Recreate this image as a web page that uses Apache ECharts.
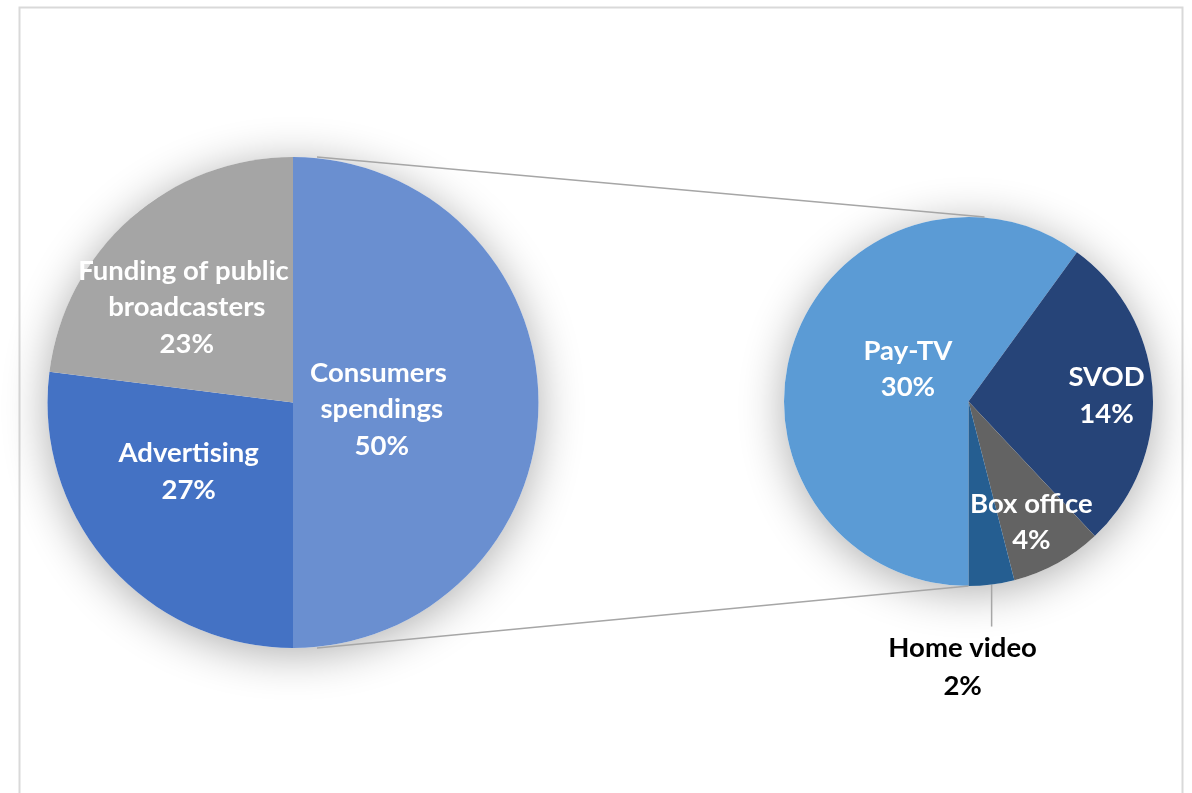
<!DOCTYPE html>
<html>
<head>
<meta charset="utf-8">
<script src="https://cdn.jsdelivr.net/npm/echarts@6/dist/echarts.min.js"></script>
<style>
  html, body { margin: 0; padding: 0; background: #ffffff; }
  #chart { width: 1192px; height: 793px; }
</style>
</head>
<body>
<div id="chart"></div>
<script>
// Market revenue split: main pie and the breakdown of consumer spendings
const mainCategories = ['Consumers spendings', 'Advertising', 'Funding of public broadcasters'];
const mainValues = [50, 27, 23];
const detailCategories = ['Pay-TV', 'SVOD', 'Box office', 'Home video'];
const detailValues = [30, 14, 4, 2];

const mainColors = ['#6A8FD0', '#4472C4', '#A5A5A5'];
const detailColors = ['#5B9BD5', '#264478', '#636363', '#255E91'];

// Pie geometry (pixels)
const L = { cx: 293, cy: 402.5, r: 245.5 };
const R = { cx: 968.5, cy: 401.5, r: 184.5 };

// Nudges for the inside labels, relative to ECharts' default inside position
const mainLabelShift = [[-37, 7], [-10, -14], [-23, -1]];
const detailLabelShift = [[30, -3], [43, 0], [17, 37]];

const FONT = 'Lato, "Open Sans", sans-serif';

const insideLabel = {
  show: true,
  position: 'inside',
  formatter: '{b}\n{c}%',
  color: '#ffffff',
  fontFamily: FONT,
  fontWeight: 'bold',
  fontSize: 27.5,
  lineHeight: 36.5,
  width: 245,
  overflow: 'break',
  align: 'center'
};

function shadowDisc(g) {
  return {
    type: 'pie',
    silent: true,
    center: [g.cx, g.cy],
    radius: g.r,
    label: { show: false },
    labelLine: { show: false },
    emphasis: { disabled: true },
    itemStyle: {
      color: '#ffffff',
      shadowBlur: 45,
      shadowOffsetY: 6,
      shadowColor: 'rgba(0,0,0,0.32)'
    },
    data: [1],
    z: 1
  };
}

const chart = echarts.init(document.getElementById('chart'), null, { renderer: 'canvas' });

chart.setOption({
  backgroundColor: '#ffffff',
  animation: false,
  graphic: [
    {
      type: 'rect',
      shape: { x: 19.5, y: 7.5, width: 1163, height: 820 },
      style: { fill: 'none', stroke: '#D9D9D9', lineWidth: 2 },
      z: 0
    },
    {
      type: 'line',
      shape: { x1: L.cx + 24, y1: L.cy - L.r, x2: R.cx + 16, y2: R.cy - R.r },
      style: { stroke: '#A6A6A6', lineWidth: 1.5 },
      z: 5
    },
    {
      type: 'line',
      shape: { x1: L.cx + 24, y1: L.cy + L.r, x2: R.cx, y2: R.cy + R.r },
      style: { stroke: '#A6A6A6', lineWidth: 1.5 },
      z: 5
    }
  ],
  series: [
    shadowDisc(L),
    shadowDisc(R),
    {
      type: 'pie',
      name: 'Total',
      center: [L.cx, L.cy],
      radius: L.r,
      startAngle: 90,
      clockwise: true,
      avoidLabelOverlap: false,
      emphasis: { disabled: true },
      label: insideLabel,
      labelLine: { show: false },
      labelLayout: function (p) {
        const s = mainLabelShift[p.dataIndex];
        return { dx: s[0], dy: s[1] };
      },
      data: mainCategories.map((n, i) => ({
        name: n, value: mainValues[i], itemStyle: { color: mainColors[i] }
      })),
      z: 2
    },
    {
      type: 'pie',
      name: 'Consumers spendings',
      center: [R.cx, R.cy],
      radius: R.r,
      startAngle: -90,
      clockwise: true,
      avoidLabelOverlap: false,
      emphasis: { disabled: true },
      label: insideLabel,
      labelLine: { show: false },
      labelLayout: function (p) {
        if (p.dataIndex === 3) {
          const p0 = p.labelLinePoints[0];
          return {
            x: p0[0] - 29,
            y: p0[1] + 45,
            align: 'center',
            verticalAlign: 'top',
            labelLinePoints: [[p0[0], p0[1]], [p0[0], p0[1] + 42], [p0[0], p0[1] + 42]]
          };
        }
        const s = detailLabelShift[p.dataIndex];
        return { dx: s[0], dy: s[1] };
      },
      data: detailCategories.map((n, i) => {
        const item = { name: n, value: detailValues[i], itemStyle: { color: detailColors[i] } };
        if (i === 3) {
          item.label = { position: 'outside', color: '#000000', lineHeight: 38 };
          item.labelLine = { show: true, length: 42, length2: 0, lineStyle: { color: '#A6A6A6', width: 1.5 } };
        }
        return item;
      }),
      z: 2
    }
  ]
});
</script>
</body>
</html>
